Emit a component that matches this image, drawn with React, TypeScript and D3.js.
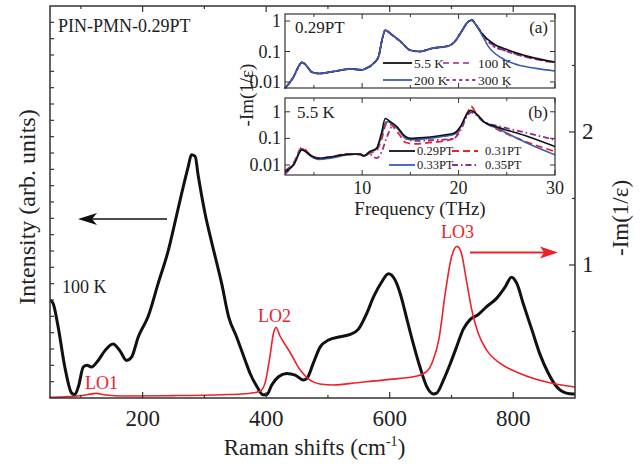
import React from 'react';
import * as d3 from 'd3';

// ---------- Main Raman spectrum (left axis, arb. units) ----------
const ramanSpectrum: [number, number][] = [
  [50, 6.0], [55, 5.8], [63, 4.4], [74, 1.9], [85, 0.3], [90, 0.2], [96, 0.7], [104, 1.9], [110, 2.0],
  [117, 1.9], [128, 2.3], [139, 2.9], [152, 3.3], [163, 2.9], [174, 2.3], [182, 2.5], [193, 3.75],
  [209, 5.0], [225, 7.0], [242, 9.1], [252, 10.7], [263, 12.5], [274, 14.2], [279, 14.9], [285, 14.8],
  [290, 13.6], [301, 11.3], [312, 9.5], [328, 7.0], [339, 5.0], [352, 3.75], [366, 2.3], [374, 1.5],
  [385, 0.7], [395, 0.2], [401, 0.2], [409, 0.8], [420, 1.3], [433, 1.5], [447, 1.4], [460, 1.1],
  [466, 1.2], [476, 2.1], [487, 3.1], [501, 3.55], [520, 3.75], [536, 3.9], [549, 4.2], [563, 5.2],
  [574, 6.2], [587, 7.1], [598, 7.6], [609, 7.2], [617, 6.4], [628, 4.8], [638, 3.35], [649, 1.9],
  [660, 0.7], [671, 0.25], [676, 0.3], [687, 1.1], [698, 2.1], [708, 3.1], [719, 4.2], [730, 4.8],
  [743, 5.1], [757, 5.6], [773, 6.1], [787, 6.8], [797, 7.4], [806, 7.0], [816, 5.8], [830, 4.2],
  [843, 2.7], [857, 1.5], [870, 0.7], [886, 0.3], [897, 0.25], [900, 0.25],
];

// ---------- Loss function -Im(1/eps) (right axis) ----------
const lossFunction: [number, number][] = [
  [50, 0.005], [80, 0.01], [110, 0.025], [125, 0.035], [140, 0.022], [170, 0.015], [250, 0.018],
  [330, 0.025], [360, 0.03], [380, 0.04], [390, 0.05], [398, 0.11], [406, 0.31], [412, 0.49],
  [416, 0.53], [422, 0.47], [439, 0.34], [455, 0.21], [471, 0.135], [487, 0.105], [509, 0.098],
  [547, 0.115], [600, 0.14], [644, 0.165], [660, 0.2], [670, 0.28], [680, 0.45], [690, 0.79],
  [700, 1.06], [709, 1.14], [716, 1.09], [724, 0.89], [733, 0.66], [743, 0.49], [757, 0.36],
  [779, 0.26], [811, 0.185], [854, 0.12], [900, 0.083],
];

const xTicksMajor = [200, 400, 600, 800];
const xTicksMinor = [100, 300, 500, 700];
const rightTicksMajor = [1, 2];
const rightTicksMinor = [0.5, 1.5, 2.5];

// ---------- Inset (a): 0.29PT at various temperatures ----------
const lowA: [number, number][] = [
  [2.0, 0.0063], [2.9, 0.015], [3.4, 0.032], [3.75, 0.044], [4.1, 0.038], [4.8, 0.021], [5.6, 0.019],
  [7.0, 0.022], [8.8, 0.027], [10.0, 0.025], [10.3, 0.027], [11.2, 0.041], [11.7, 0.068], [12.1, 0.27],
  [12.4, 0.5], [13.1, 0.35], [14.0, 0.21], [15.0, 0.11], [16.0, 0.1], [17.2, 0.126], [19.0, 0.155],
  [19.6, 0.21], [20.3, 0.45], [21.0, 0.95], [21.4, 1.07], [21.7, 0.83], [22.4, 0.4],
];
const a5K: [number, number][] = [...lowA, [23.5, 0.19], [25.2, 0.11], [27.3, 0.068], [30, 0.045]];
const a100K: [number, number][] = [...lowA, [23.5, 0.17], [25.2, 0.097], [27.3, 0.062], [30, 0.042]];
const a200K: [number, number][] = [...lowA.slice(0, -1), [22.4, 0.36], [23.1, 0.145], [24.5, 0.06], [26.2, 0.036], [28, 0.028], [30, 0.023]];
const a300K: [number, number][] = [...lowA, [23.5, 0.16], [25.2, 0.1], [27.3, 0.064], [30, 0.044]];

// ---------- Inset (b): 5.5 K, various compositions ----------
const b029: [number, number][] = [
  [2.0, 0.0056], [2.9, 0.01], [3.75, 0.037], [4.6, 0.024], [5.3, 0.018], [6.7, 0.02], [8.4, 0.025],
  [9.8, 0.026], [10.15, 0.022], [10.8, 0.032], [11.5, 0.043], [12.0, 0.155], [12.4, 0.56], [12.9, 0.43],
  [13.6, 0.28], [14.3, 0.135], [15.0, 0.1], [16.4, 0.107], [18.5, 0.135], [19.5, 0.155], [20.2, 0.28],
  [20.9, 0.87], [21.25, 1.15], [21.8, 0.87], [22.6, 0.43], [24.0, 0.27], [26.8, 0.13], [30, 0.049],
];
const b031: [number, number][] = [
  [2.0, 0.006], [2.9, 0.012], [3.75, 0.045], [4.6, 0.025], [5.5, 0.018], [6.7, 0.02], [8.4, 0.026],
  [9.8, 0.024], [10.15, 0.022], [10.8, 0.028], [11.5, 0.035], [12.0, 0.09], [12.6, 0.4], [13.1, 0.3],
  [13.8, 0.15], [14.5, 0.07], [15.5, 0.062], [17, 0.07], [18.5, 0.08], [19.5, 0.1], [20.2, 0.25],
  [20.9, 0.9], [21.3, 1.6], [21.8, 0.9], [22.6, 0.45], [24.0, 0.22], [26.8, 0.08], [30, 0.032],
];
const b033: [number, number][] = [
  [2.0, 0.006], [2.9, 0.011], [3.75, 0.04], [4.6, 0.022], [5.5, 0.016], [6.7, 0.018], [8.4, 0.024],
  [9.8, 0.026], [10.15, 0.022], [10.8, 0.03], [11.5, 0.04], [12.0, 0.12], [12.5, 0.42], [13.0, 0.38],
  [13.6, 0.25], [14.3, 0.12], [15.0, 0.09], [16.4, 0.095], [18.5, 0.12], [19.5, 0.14], [20.2, 0.26],
  [20.9, 0.85], [21.3, 1.1], [21.8, 0.85], [22.6, 0.42], [24.0, 0.24], [26.8, 0.075], [30, 0.024],
];
const b035: [number, number][] = [
  [2.0, 0.0045], [2.9, 0.011], [3.75, 0.04], [4.6, 0.024], [5.5, 0.017], [6.7, 0.02], [8.4, 0.025],
  [9.8, 0.026], [10.15, 0.022], [10.8, 0.025], [11.5, 0.018], [12.0, 0.03], [12.6, 0.12], [13.2, 0.3],
  [13.8, 0.22], [14.5, 0.1], [15.5, 0.08], [17, 0.085], [18.5, 0.09], [19.5, 0.1], [20.2, 0.2],
  [20.9, 0.7], [21.3, 0.95], [21.8, 0.75], [22.6, 0.42], [24.0, 0.3], [26.8, 0.17], [30, 0.087],
];

const insetXMajor = [10, 20, 30];
const insetXMinor = [5, 15, 25];
const insetYTicks = [0.01, 0.1, 1];
const insetYLabels = ['0.01', '0.1', '1'];

const FONT = 'Liberation Serif, Times New Roman, Times, serif';
const RED = '#ec2229';
const BLUE = '#3a5cb0';
const PURPLE = '#97278f';
const AX = '#333';

export default function App() {
  const W = 643, H = 467;
  const L = 50, R = 575, T = 6, B = 398;
  const x = d3.scaleLinear().domain([50, 900]).range([L, R]);
  const yL = d3.scaleLinear().domain([0, 24]).range([B, T]);
  const yR = d3.scaleLinear().domain([0, 2.947]).range([B, T]);

  const lineL = d3.line<[number, number]>().x(d => x(d[0])).y(d => yL(d[1])).curve(d3.curveMonotoneX);
  const lineR = d3.line<[number, number]>().x(d => x(d[0])).y(d => yR(d[1])).curve(d3.curveMonotoneX);

  // inset scales
  const IL = 285, IR = 555;
  const fx = d3.scaleLinear().domain([2, 30]).range([IL, IR]);
  const ya = d3.scaleLog().domain([0.00635, 1.7]).range([88, 14]);
  const yb = d3.scaleLog().domain([0.0042, 3.3]).range([175, 98]);
  const la = d3.line<[number, number]>().x(d => fx(d[0])).y(d => ya(d[1])).curve(d3.curveMonotoneX);
  const lb = d3.line<[number, number]>().x(d => fx(d[0])).y(d => yb(d[1])).curve(d3.curveMonotoneX);

  const leftTicks = d3.range(1, 24);

  const panel = (ys: any, top: number, bottom: number, key: string, showLabels: boolean) => (
    <g key={key}>
      <rect x={IL} y={top} width={IR - IL} height={bottom - top} fill="white" stroke="none" />
      {insetXMajor.concat(insetXMinor).map(t => {
        const len = insetXMajor.includes(t) ? 5 : 3;
        return (
          <g key={'x' + t}>
            <line x1={fx(t)} x2={fx(t)} y1={bottom} y2={bottom - len} stroke={AX} strokeWidth={1} />
            <line x1={fx(t)} x2={fx(t)} y1={top} y2={top + len} stroke={AX} strokeWidth={1} />
          </g>
        );
      })}
      {insetYTicks.map((t, i) => (
        <g key={'y' + t}>
          <line x1={IL} x2={IL + 5} y1={ys(t)} y2={ys(t)} stroke={AX} strokeWidth={1} />
          <line x1={IR} x2={IR - 5} y1={ys(t)} y2={ys(t)} stroke={AX} strokeWidth={1} />
          <text x={IL - 4} y={ys(t)} textAnchor="end" dominantBaseline="central" fontSize={18} fontFamily={FONT} fill="#222">
            {insetYLabels[i]}
          </text>
        </g>
      ))}
      {showLabels && insetXMajor.map(t => (
        <text key={'xl' + t} x={fx(t)} y={194} textAnchor="middle" fontSize={18} fontFamily={FONT} fill="#222">{t}</text>
      ))}
    </g>
  );

  return (
    <svg width={W} height={H} style={{ position: 'absolute', left: 0, top: 0, background: 'white' }}>
      {/* main curves */}
      <path d={lineL(ramanSpectrum) || ''} fill="none" stroke="#111" strokeWidth={3} strokeLinejoin="round" />
      <path d={lineR(lossFunction) || ''} fill="none" stroke={RED} strokeWidth={1.6} />

      {/* main frame & ticks */}
      <rect x={L} y={T} width={R - L} height={B - T} fill="none" stroke={AX} strokeWidth={1.5} />
      {xTicksMajor.map(t => (
        <g key={'xm' + t}>
          <line x1={x(t)} x2={x(t)} y1={B} y2={B - 6} stroke={AX} strokeWidth={1.2} />
          <line x1={x(t)} x2={x(t)} y1={T} y2={T + 6} stroke={AX} strokeWidth={1.2} />
          <text x={x(t)} y={426} textAnchor="middle" fontSize={23} fontFamily={FONT} fill="#222">{t}</text>
        </g>
      ))}
      {xTicksMinor.map(t => (
        <g key={'xn' + t}>
          <line x1={x(t)} x2={x(t)} y1={B} y2={B - 3} stroke={AX} strokeWidth={1.2} />
          <line x1={x(t)} x2={x(t)} y1={T} y2={T + 3} stroke={AX} strokeWidth={1.2} />
        </g>
      ))}
      {leftTicks.map(t => (
        <line key={'l' + t} x1={L} x2={L + 4} y1={yL(t)} y2={yL(t)} stroke={AX} strokeWidth={1.2} />
      ))}
      {rightTicksMajor.map(t => (
        <g key={'rm' + t}>
          <line x1={R} x2={R - 6} y1={yR(t)} y2={yR(t)} stroke={AX} strokeWidth={1.2} />
          <text x={R + 7} y={yR(t)} dominantBaseline="central" fontSize={23} fontFamily={FONT} fill="#222">{t}</text>
        </g>
      ))}
      {rightTicksMinor.map(t => (
        <line key={'rn' + t} x1={R} x2={R - 3} y1={yR(t)} y2={yR(t)} stroke={AX} strokeWidth={1.2} />
      ))}

      {/* axis titles */}
      <text x={(L + R) / 2 + 2} y={455} textAnchor="middle" fontSize={23} fontFamily={FONT} fill="#222">
        Raman shifts (cm<tspan dy={-9} fontSize={14}>-1</tspan><tspan dy={9}>)</tspan>
      </text>
      <text transform="translate(35,207) rotate(-90)" textAnchor="middle" fontSize={24} fontFamily={FONT} fill="#222">
        Intensity (arb. units)
      </text>
      <text transform="translate(628,218) rotate(-90)" textAnchor="middle" fontSize={23} fontFamily={FONT} fill="#222">
        -Im(1/ε)
      </text>

      {/* annotations */}
      <text x={58} y={32} fontSize={18} fontFamily={FONT} fill="#222">PIN-PMN-0.29PT</text>
      <text x={62} y={293} fontSize={18} fontFamily={FONT} fill="#222">100 K</text>
      <text x={85} y={389} fontSize={18} fontFamily={FONT} fill={RED}>LO1</text>
      <text x={258} y={322} fontSize={18} fontFamily={FONT} fill={RED}>LO2</text>
      <text x={441} y={238} fontSize={18} fontFamily={FONT} fill={RED}>LO3</text>
      <line x1={167} x2={86} y1={219} y2={219} stroke="#111" strokeWidth={1.5} />
      <path d="M78,219 L97,213 L92,219 L97,225 Z" fill="#111" />
      <line x1={470} x2={548} y1={252.5} y2={252.5} stroke={RED} strokeWidth={2} />
      <path d="M558,252.5 L540,246.5 L544,252.5 L540,258.5 Z" fill={RED} />

      {/* inset */}
      {panel(ya, 14, 88, 'a', false)}
      {panel(yb, 98, 175, 'b', true)}
      <g>
        <path d={la(a300K) || ''} fill="none" stroke={PURPLE} strokeWidth={2} strokeDasharray="1.5,4" strokeLinecap="round" />
        <path d={la(a100K) || ''} fill="none" stroke={PURPLE} strokeWidth={1.6} strokeDasharray="6,4" />
        <path d={la(a5K) || ''} fill="none" stroke="#111" strokeWidth={1.6} />
        <path d={la(a200K) || ''} fill="none" stroke={BLUE} strokeWidth={1.6} />
      </g>
      <g>
        <path d={lb(b031) || ''} fill="none" stroke={RED} strokeWidth={1.8} strokeDasharray="7,4" />
        <path d={lb(b035) || ''} fill="none" stroke={PURPLE} strokeWidth={1.8} strokeDasharray="6,3,1.5,3" />
        <path d={lb(b033) || ''} fill="none" stroke={BLUE} strokeWidth={1.6} />
        <path d={lb(b029) || ''} fill="none" stroke="#111" strokeWidth={1.6} />
      </g>
      <rect x={IL} y={14} width={IR - IL} height={74} fill="none" stroke={AX} strokeWidth={1.2} />
      <rect x={IL} y={98} width={IR - IL} height={77} fill="none" stroke={AX} strokeWidth={1.2} />

      {/* inset labels */}
      <text x={295} y={33} fontSize={17} fontFamily={FONT} fill="#222">0.29PT</text>
      <text x={548} y={33} textAnchor="end" fontSize={17} fontFamily={FONT} fill="#222">(a)</text>
      <text x={297} y={118} fontSize={17} fontFamily={FONT} fill="#222">5.5 K</text>
      <text x={548} y={118} textAnchor="end" fontSize={17} fontFamily={FONT} fill="#222">(b)</text>
      <text x={420} y={215} textAnchor="middle" fontSize={19} fontFamily={FONT} fill="#222">Frequency (THz)</text>
      <text transform="translate(253,95) rotate(-90)" textAnchor="middle" fontSize={19} fontFamily={FONT} fill="#222">-Im(1/ε)</text>

      {/* legend (a) */}
      <line x1={383} x2={412} y1={63} y2={63} stroke="#111" strokeWidth={1.8} />
      <text x={414} y={63} dominantBaseline="central" fontSize={13.5} fontFamily={FONT} fill="#222">5.5 K</text>
      <line x1={443} x2={472} y1={63} y2={63} stroke={PURPLE} strokeWidth={1.6} strokeDasharray="6,4" />
      <text x={478} y={63} dominantBaseline="central" fontSize={13.5} fontFamily={FONT} fill="#222">100 K</text>
      <line x1={383} x2={412} y1={80} y2={80} stroke={BLUE} strokeWidth={1.8} />
      <text x={414} y={80} dominantBaseline="central" fontSize={13.5} fontFamily={FONT} fill="#222">200 K</text>
      <line x1={447} x2={475} y1={80} y2={80} stroke={PURPLE} strokeWidth={2} strokeDasharray="1.5,5" strokeLinecap="round" />
      <text x={478} y={80} dominantBaseline="central" fontSize={13.5} fontFamily={FONT} fill="#222">300 K</text>

      {/* legend (b) */}
      <line x1={389} x2={415} y1={151} y2={151} stroke="#111" strokeWidth={1.8} />
      <text x={417} y={151} dominantBaseline="central" fontSize={12.5} fontFamily={FONT} fill="#222">0.29PT</text>
      <line x1={452} x2={478} y1={151} y2={151} stroke={RED} strokeWidth={1.8} strokeDasharray="7,4" />
      <text x={485} y={151} dominantBaseline="central" fontSize={12.5} fontFamily={FONT} fill="#222">0.31PT</text>
      <line x1={389} x2={415} y1={165} y2={165} stroke={BLUE} strokeWidth={1.8} />
      <text x={417} y={165} dominantBaseline="central" fontSize={12.5} fontFamily={FONT} fill="#222">0.33PT</text>
      <line x1={452} x2={478} y1={165} y2={165} stroke={PURPLE} strokeWidth={1.8} strokeDasharray="6,3,1.5,3" />
      <text x={485} y={165} dominantBaseline="central" fontSize={12.5} fontFamily={FONT} fill="#222">0.35PT</text>
    </svg>
  );
}
